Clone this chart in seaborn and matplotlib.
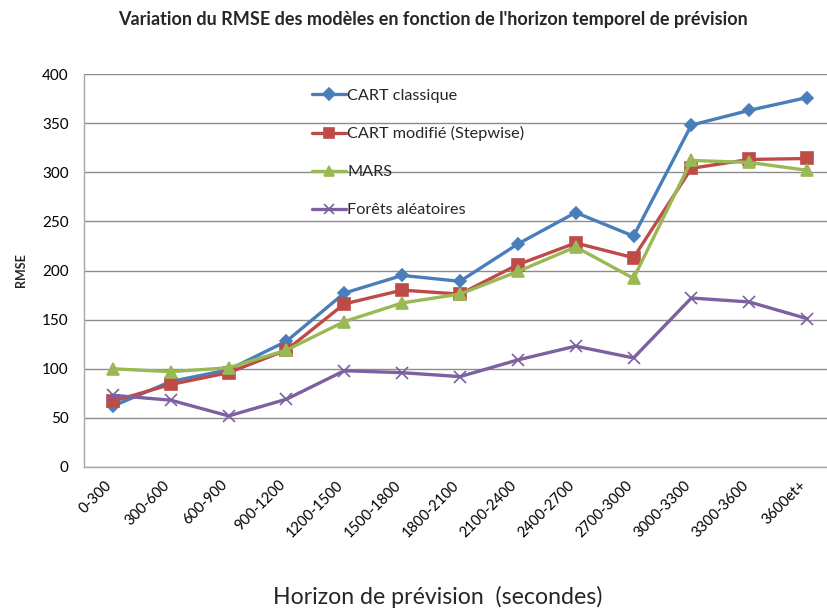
import matplotlib
matplotlib.use("Agg")
import matplotlib.pyplot as plt
import matplotlib.transforms as mtransforms
import numpy as np
import pandas as pd
import seaborn as sns

horizons = ["0-300", "300-600", "600-900", "900-1200", "1200-1500", "1500-1800",
            "1800-2100", "2100-2400", "2400-2700", "2700-3000", "3000-3300",
            "3300-3600", "3600et+"]
cart_classique = [62, 87, 99, 128, 177, 195, 189, 227, 259, 235, 348, 363, 376]
cart_modifie = [67, 84, 96, 119, 166, 180, 176, 206, 228, 213, 304, 313, 314]
mars = [100, 97, 101, 119, 148, 167, 176, 199, 224, 192, 312, 310, 302]
forets = [73, 68, 52, 69, 98, 96, 92, 109, 123, 111, 172, 168, 151]

models = ["CART classique", "CART modifié (Stepwise)", "MARS", "Forêts aléatoires"]
series = [cart_classique, cart_modifie, mars, forets]
colors = ["#4A7EBB", "#BE4B48", "#98B954", "#7D60A0"]
markers = ["D", "s", "^", "x"]
msizes = [6.5, 8.5, 8.5, 8.5]

sns.set_theme(style="white")
plt.rcParams["font.family"] = ["Lato", "DejaVu Sans"]

fig = plt.figure(figsize=(8.27, 6.11), dpi=100)
ax = fig.add_axes([84 / 827, 144 / 611, 752 / 827, 393 / 611])

for name, vals, col, mk, ms in zip(models, series, colors, markers, msizes):
    df = pd.DataFrame({"horizon": horizons, "rmse": vals})
    sns.lineplot(data=df, x="horizon", y="rmse", color=col, marker=mk,
                 markersize=ms, markeredgecolor=col, markeredgewidth=1.2,
                 linewidth=2.4, sort=False, label=name, ax=ax)

ax.set_xlim(-0.5, len(horizons) - 0.5)
ax.set_ylim(0, 400)
ax.set_yticks(np.arange(0, 401, 50))
ax.yaxis.grid(True, color="#8C8C8C", linewidth=1.0)
ax.xaxis.grid(False)
ax.set_axisbelow(True)
for side in ["top", "right"]:
    ax.spines[side].set_visible(False)
for side in ["left", "bottom"]:
    ax.spines[side].set_color("#A6A6A6")
    ax.spines[side].set_linewidth(1.0)
ax.tick_params(axis="both", length=0, colors="black")
ax.tick_params(axis="y", labelsize=11, pad=11)

ax.set_xticks(range(len(horizons)))
ax.set_xticklabels(horizons, rotation=45, ha="right", va="center",
                   rotation_mode="anchor", fontsize=10.5)
offset = mtransforms.ScaledTranslation(-3 / 100, -11 / 100, fig.dpi_scale_trans)
for lbl in ax.get_xticklabels():
    lbl.set_transform(lbl.get_transform() + offset)

ax.set_xlabel("")
ax.set_ylabel("RMSE", fontsize=9, fontweight="bold")
ax.yaxis.set_label_coords(-0.076, 0.5)

fig.text(438 / 827, 1 - 597 / 611, "Horizon de prévision  (secondes)",
         ha="center", va="center", fontsize=16.7)
fig.text(433 / 827, 1 - 20 / 611,
         "Variation du RMSE des modèles en fonction de l'horizon temporel de prévision",
         ha="center", va="center", fontsize=13, fontweight="bold")

handles, labels = ax.get_legend_handles_labels()
ax.legend(handles, labels, loc="upper left", bbox_to_anchor=(0.295, 0.98),
          frameon=False, fontsize=11.7, labelspacing=1.45, handlelength=2.1,
          handletextpad=0.05, borderaxespad=0, markerscale=0.9)

fig.savefig("out.png", dpi=100)
